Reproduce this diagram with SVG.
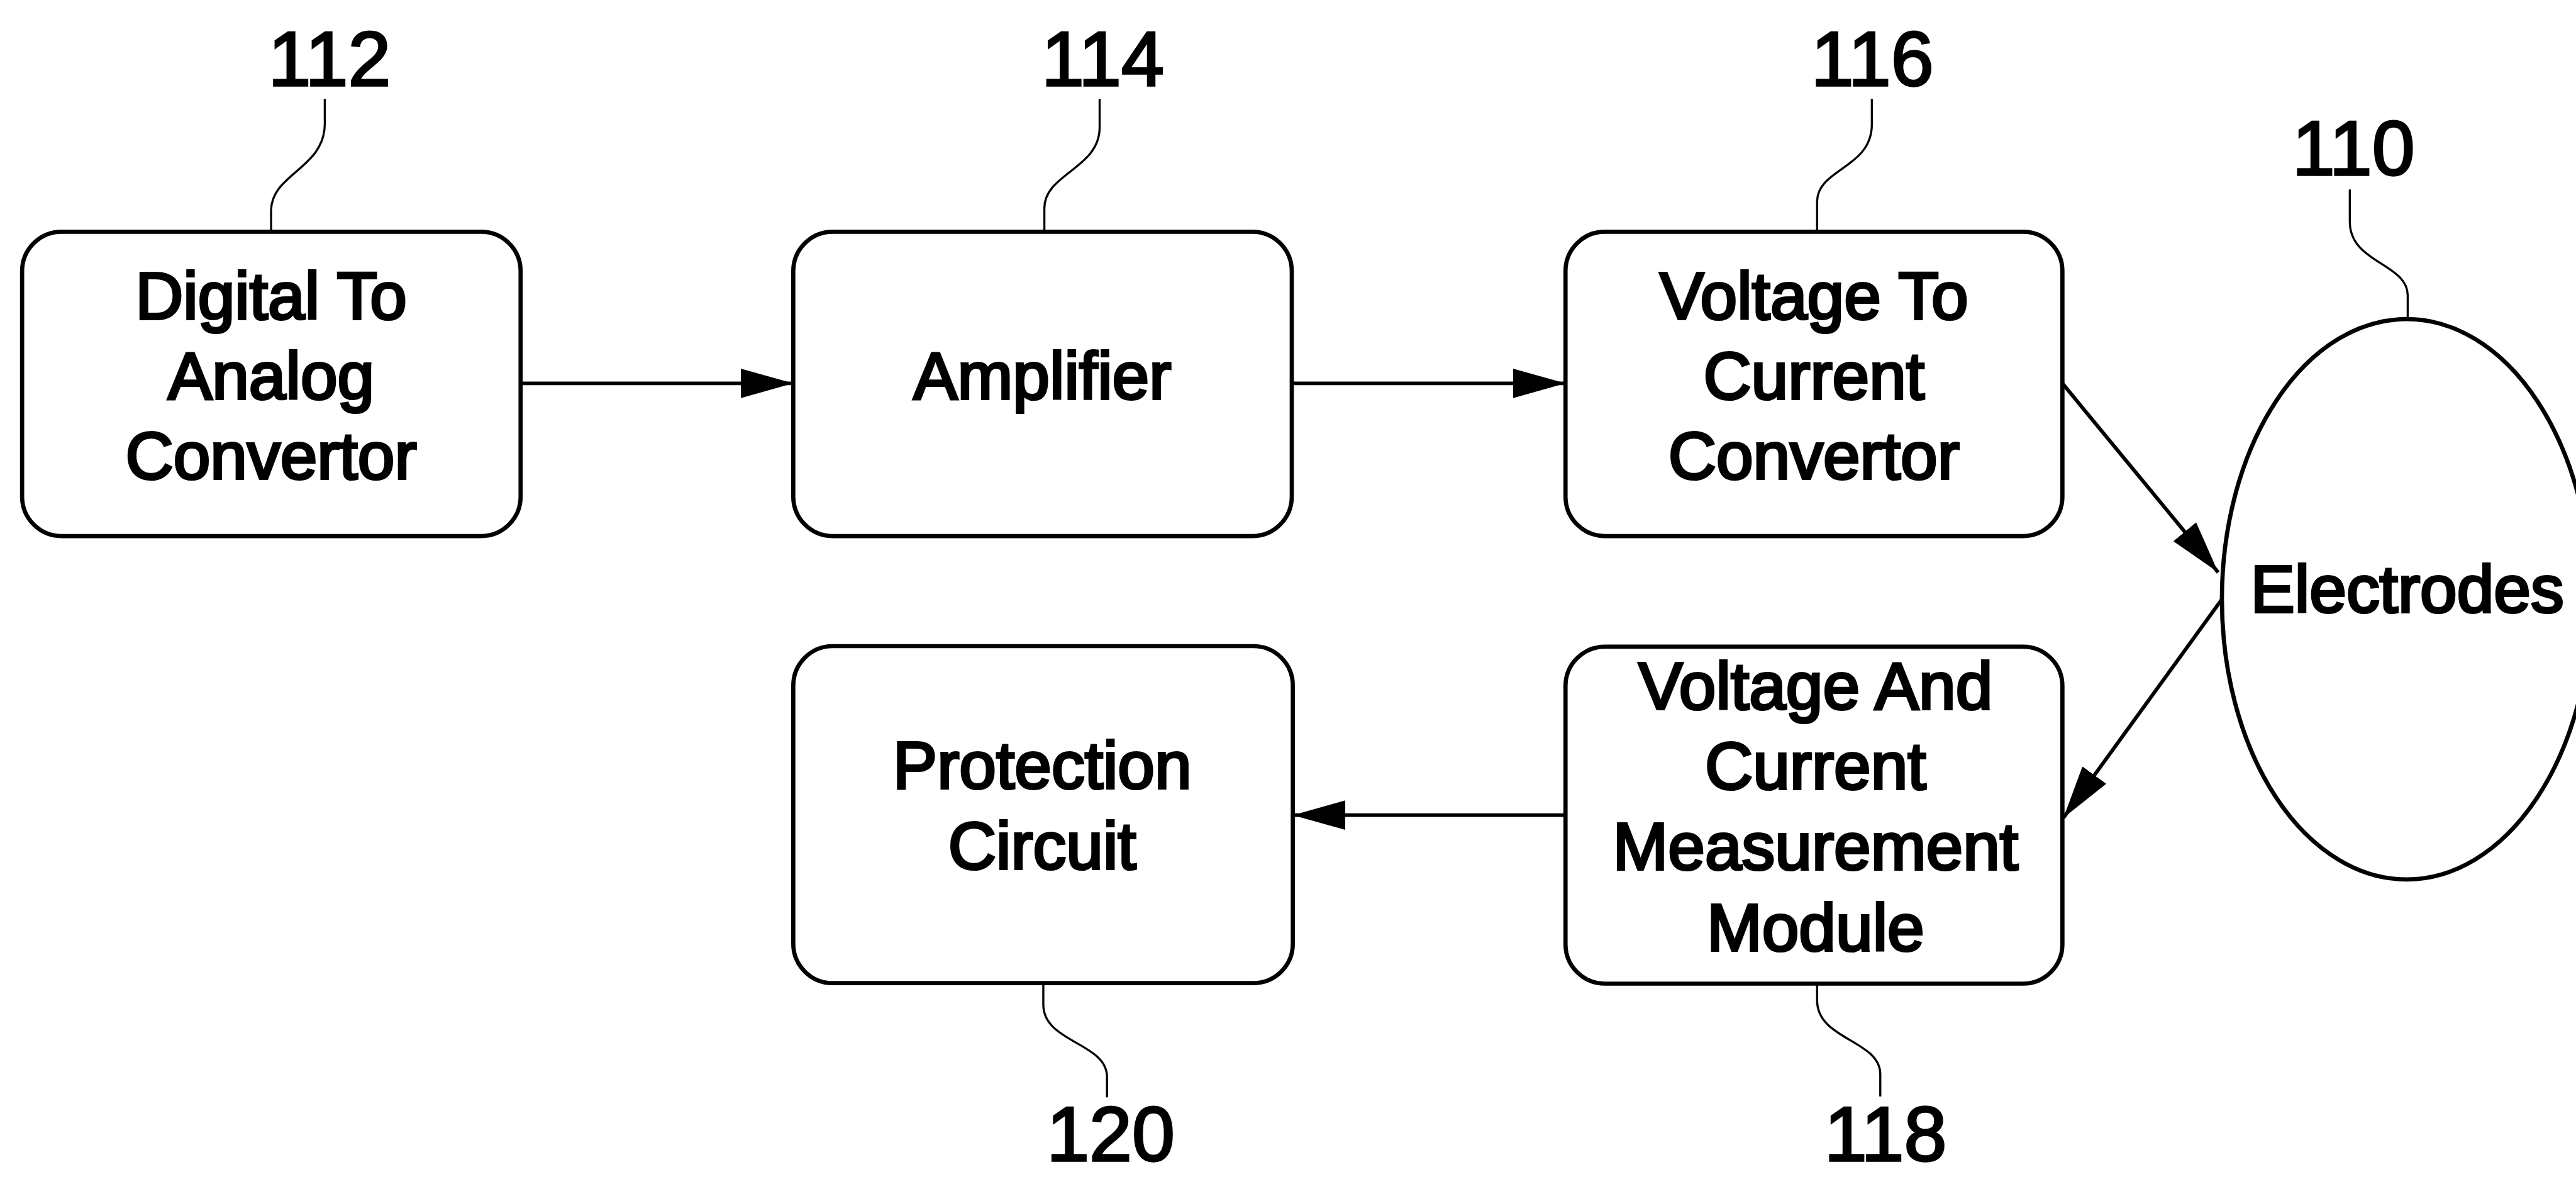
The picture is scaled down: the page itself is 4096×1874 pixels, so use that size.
<svg xmlns="http://www.w3.org/2000/svg" width="4096" height="1874" viewBox="0 0 4096 1874">
<defs>
<style>
.box{fill:#fff;stroke:#000;stroke-width:8}
.lbl{font-family:"Liberation Sans",Arial,sans-serif;font-size:126px;fill:#000;stroke:#000;stroke-width:5;text-anchor:middle}
.num{font-family:"Liberation Sans",Arial,sans-serif;font-size:146px;fill:#000;stroke:#000;stroke-width:4;text-anchor:middle}
.lead{fill:none;stroke:#000;stroke-width:4}
.conn{fill:none;stroke:#000;stroke-width:7}
</style>
<marker id="arr" markerUnits="userSpaceOnUse" markerWidth="110" markerHeight="70" refX="100" refY="30" orient="auto" viewBox="0 0 110 60">
<path d="M0,2 L100,30 L0,58 z" fill="#000"/>
</marker>
</defs>
<rect width="4096" height="1874" fill="#fff"/>
<g transform="scale(0.837)">
<g id="connectors">
<path class="conn" d="M990,728 L1507,728" marker-end="url(#arr)"/>
<path class="conn" d="M2454,728 L2974,728" marker-end="url(#arr)"/>
<path class="conn" d="M3918,728 L4214,1087" marker-end="url(#arr)"/>
<path class="conn" d="M4221,1138 L3920,1553" marker-end="url(#arr)"/>
<path class="conn" d="M2974,1548 L2456,1548" marker-end="url(#arr)"/>
</g>
<g id="n112">
<rect class="box" x="42" y="440" width="947" height="578" rx="75"/>
<text class="lbl" x="515" y="606">Digital To</text>
<text class="lbl" x="515" y="757">Analog</text>
<text class="lbl" x="515" y="909">Convertor</text>
<path class="lead" d="M617,188 V235 C617,320 515,330 515,400 V440"/>
<text class="num" x="626" y="163">112</text>
</g>
<g id="n114">
<rect class="box" x="1507" y="440" width="947" height="578" rx="75"/>
<text class="lbl" x="1980" y="757">Amplifier</text>
<path class="lead" d="M2089,188 V242 C2089,320 1984,330 1984,395 V440"/>
<text class="num" x="2095" y="163">114</text>
</g>
<g id="n116">
<rect class="box" x="2974" y="440" width="944" height="578" rx="75"/>
<text class="lbl" x="3446" y="606">Voltage To</text>
<text class="lbl" x="3446" y="757">Current</text>
<text class="lbl" x="3446" y="909">Convertor</text>
<path class="lead" d="M3556,188 V236 C3556,320 3452,320 3452,383 V440"/>
<text class="num" x="3557" y="163">116</text>
</g>
<g id="n110">
<ellipse class="box" cx="4572" cy="1138" rx="351" ry="532"/>
<text class="lbl" x="4573" y="1162">Electrodes</text>
<path class="lead" d="M4464,360 V421 C4464,500 4574,500 4574,561 V606"/>
<text class="num" x="4471" y="332">110</text>
</g>
<g id="n118">
<rect class="box" x="2974" y="1228" width="944" height="640" rx="75"/>
<text class="lbl" x="3449" y="1347">Voltage And</text>
<text class="lbl" x="3449" y="1498">Current</text>
<text class="lbl" x="3449" y="1651">Measurement</text>
<text class="lbl" x="3449" y="1805">Module</text>
<path class="lead" d="M3452,1868 V1900 C3452,1975 3572,1975 3572,2040 V2082"/>
<text class="num" x="3582" y="2204">118</text>
</g>
<g id="n120">
<rect class="box" x="1507" y="1227" width="949" height="640" rx="75"/>
<text class="lbl" x="1980" y="1497">Protection</text>
<text class="lbl" x="1980" y="1650">Circuit</text>
<path class="lead" d="M1982,1868 V1908 C1982,1980 2103,1980 2103,2045 V2084"/>
<text class="num" x="2110" y="2204">120</text>
</g>
</g>
</svg>
